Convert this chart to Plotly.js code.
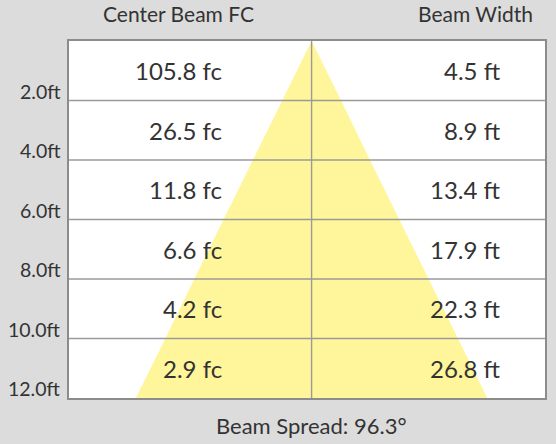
<!DOCTYPE html>
<html>
<head>
<meta charset="utf-8">
<script src="https://cdn.plot.ly/plotly-3.0.1.min.js"></script>
<style>html,body{margin:0;padding:0;background:#dcdcdc;}#chart{width:556px;height:444px;}</style>
</head>
<body>
<div id="chart"></div>
<script>
// Data
const distances = [2, 4, 6, 8, 10, 12];            // ft
const distLabels = ["2.0ft", "4.0ft", "6.0ft", "8.0ft", "10.0ft", "12.0ft"];
const centerFC = [105.8, 26.5, 11.8, 6.6, 4.2, 2.9]; // fc
const beamWidth = [4.5, 8.9, 13.4, 17.9, 22.3, 26.8]; // ft
const beamSpread = 96.3; // degrees

// Beam cone polygon built from beam widths
const coneX = [0].concat(beamWidth.map(w => -w / 2), beamWidth.slice().reverse().map(w => w / 2), [0]);
const coneY = [0].concat(distances, distances.slice().reverse(), [0]);

const font = "Lato, 'Open Sans', sans-serif";
const txt = "#333333";
const gridCol = '#9a9a9a';

const annotations = [];
distances.forEach((d, i) => {
  annotations.push({x: -6.7, y: d - 1, xref: 'x', yref: 'y', text: centerFC[i].toFixed(1) + ' fc',
    showarrow: false, xanchor: 'right', yanchor: 'middle', font: {family: font, size: 24, color: txt}});
  annotations.push({x: 14.6, y: d - 1, xref: 'x', yref: 'y', text: beamWidth[i].toFixed(1) + ' ft',
    showarrow: false, xanchor: 'right', yanchor: 'middle', font: {family: font, size: 24, color: txt}});
  annotations.push({x: 0, y: d, xref: 'paper', yref: 'y', text: distLabels[i], xshift: -6, yshift: -4,
    showarrow: false, xanchor: 'right', yanchor: 'bottom', font: {family: font, size: 19.5, color: txt}});
});
annotations.push({x: 0.229, y: 1, xref: 'paper', yref: 'paper', yshift: 13, text: 'Center Beam FC',
  showarrow: false, xanchor: 'center', yanchor: 'bottom', font: {family: font, size: 21, color: txt}});
annotations.push({x: 0.855, y: 1, xref: 'paper', yref: 'paper', yshift: 13, text: 'Beam Width',
  showarrow: false, xanchor: 'center', yanchor: 'bottom', font: {family: font, size: 21, color: txt}});
annotations.push({x: 0, y: 12, xref: 'x', yref: 'y', yshift: -12, text: 'Beam Spread: ' + beamSpread.toFixed(1) + '°',
  showarrow: false, xanchor: 'center', yanchor: 'top', font: {family: font, size: 22, color: txt}});

// Grid lines and centre line drawn above the beam
const shapes = distances.slice(0, -1).map(d => ({
  type: 'line', xref: 'paper', yref: 'y', x0: 0, x1: 1, y0: d, y1: d, layer: 'above',
  line: {color: gridCol, width: 1.4}
}));
shapes.push({type: 'line', xref: 'x', yref: 'paper', x0: 0, x1: 0, y0: 0, y1: 1, layer: 'above',
  line: {color: gridCol, width: 1.4}});

const traces = [{
  type: 'scatter', mode: 'lines', x: coneX, y: coneY, fill: 'toself',
  fillcolor: '#fff59a', line: {width: 0, color: '#fff59a'}, hoverinfo: 'skip', showlegend: false
}];

const layout = {
  width: 556, height: 444,
  margin: {l: 69, r: 11, t: 41, b: 46, pad: 0},
  paper_bgcolor: '#dcdcdc', plot_bgcolor: '#ffffff',
  showlegend: false,
  xaxis: {range: [-18.5, 17.8], showgrid: false, zeroline: false,
    showticklabels: false, ticks: '', showline: true, mirror: true, linecolor: '#8c8c8c', linewidth: 2, fixedrange: true, layer: 'above traces'},
  yaxis: {range: [12, 0], showgrid: false,
    showticklabels: false, ticks: '', zeroline: false, showline: true, mirror: true, linecolor: '#8c8c8c', linewidth: 2, fixedrange: true, layer: 'above traces'},
  shapes: shapes,
  annotations: annotations
};

Plotly.newPlot('chart', traces, layout, {staticPlot: true, displayModeBar: false});
</script>
</body>
</html>
